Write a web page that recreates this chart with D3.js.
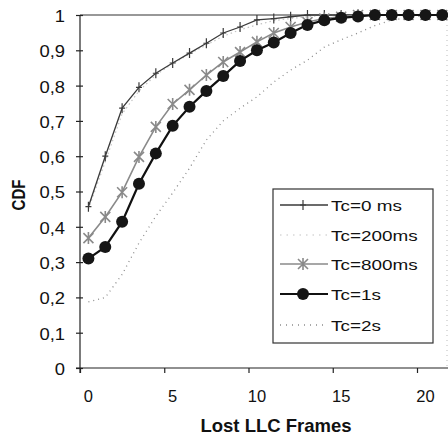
<!DOCTYPE html>
<html>
<head>
<meta charset="utf-8">
<title>CDF of lost LLC frames</title>
<script src="https://d3js.org/d3.v7.min.js"></script>
<style>
    body { margin: 0; background: #fff; }
    text { font-family: "Liberation Sans", Arial, sans-serif; fill: #111; }
    .axis path, .axis line { stroke: #222; stroke-width: 1.2px; }
</style>
</head>
<body>
<div id="chart"></div>
<script>
    // categories = lost frames 0..21
    const frames = d3.range(0, 22);
    const xLabels = [0, 5, 10, 15, 20];
    const yTicks = [0, 0.1, 0.2, 0.3, 0.4, 0.5, 0.6, 0.7, 0.8, 0.9, 1];

    const tc0 = [0.457, 0.60, 0.736, 0.795, 0.835, 0.864, 0.892, 0.92, 0.949, 0.966, 0.986, 0.99, 0.995, 1, 1, 1, 1, 1, 1, 1, 1, 1];
    const tc200 = [0.45, 0.585, 0.72, 0.785, 0.83, 0.862, 0.89, 0.915, 0.94, 0.958, 0.972, 0.984, 0.99, 0.995, 1, 1, 1, 1, 1, 1, 1, 1];
    const tc800 = [0.368, 0.428, 0.498, 0.598, 0.683, 0.748, 0.788, 0.83, 0.867, 0.895, 0.924, 0.949, 0.966, 0.98, 0.99, 0.995, 1, 1, 1, 1, 1, 1];
    const tc1s = [0.31, 0.343, 0.414, 0.522, 0.608, 0.686, 0.74, 0.785, 0.827, 0.87, 0.9, 0.922, 0.949, 0.972, 0.985, 0.992, 0.996, 1, 1, 1, 1, 1];
    const tc2s = [0.187, 0.2, 0.265, 0.354, 0.43, 0.496, 0.566, 0.646, 0.70, 0.736, 0.768, 0.81, 0.844, 0.872, 0.909, 0.93, 0.949, 0.97, 0.986, 0.992, 1, 1];

    const seriesNames = ["Tc=0 ms", "Tc=200ms", "Tc=800ms", "Tc=1s", "Tc=2s"];

    const width = 448, height = 438;
    const svg = d3.select("#chart").append("svg")
        .attr("width", width).attr("height", height);

    // category axis: each category centred between tick marks
    const x = d3.scaleLinear().domain([-0.5, 21.5]).range([80, 450.7]);
    const y = d3.scaleLinear().domain([0, 1]).range([368, 15]);

    // plot frame
    svg.append("line")
        .attr("x1", x(-0.5)).attr("x2", width).attr("y1", y(1)).attr("y2", y(1))
        .attr("stroke", "#333").attr("stroke-width", 1.2);
    svg.append("line")
        .attr("x1", 447).attr("x2", 447).attr("y1", y(1)).attr("y2", y(0))
        .attr("stroke", "#bbb").attr("stroke-dasharray", "1,4");

    // y axis
    const yAxis = svg.append("g").attr("class", "axis")
        .attr("transform", `translate(${x(-0.5)},0)`)
        .call(d3.axisLeft(y).tickValues(yTicks).tickSizeOuter(0)
            .tickFormat(d => (d === 0 || d === 1) ? String(d) : d3.format(".1f")(d).replace(".", ",")));
    yAxis.selectAll(".tick line").attr("x1", -4).attr("x2", 3);
    yAxis.selectAll(".tick text")
        .attr("x", null).attr("dy", "0.4em")
        .attr("transform", "translate(-15,0) scale(1.15,1)")
        .style("font-size", "16px").style("fill", "#111");
    yAxis.select(".domain").attr("d", `M0,${y(1)}V${y(0) + 5}`);

    // x axis: tick marks between categories, labels on categories
    const xAxis = svg.append("g").attr("class", "axis")
        .attr("transform", `translate(0,${y(0)})`)
        .call(d3.axisBottom(x).tickValues(xLabels.map(d => d - 0.5))
            .tickSize(5).tickSizeOuter(0).tickFormat(""));
    xAxis.select(".domain").attr("d", `M${x(-0.5) - 4},0H${width}`);

    svg.append("g").selectAll("text")
        .data(xLabels).join("text")
        .attr("x", d => x(d)).attr("y", 402)
        .attr("text-anchor", "middle")
        .style("font-size", "16.5px")
        .text(d => d);

    // axis titles
    svg.append("text")
        .attr("x", 276).attr("y", 432)
        .attr("text-anchor", "middle")
        .style("font-size", "18.5px").style("font-weight", "bold")
        .text("Lost LLC Frames");
    svg.append("text")
        .attr("transform", "translate(25,195) rotate(-90) scale(1,1.25)")
        .attr("text-anchor", "middle")
        .style("font-size", "15px").style("font-weight", "bold")
        .text("CDF");

    const line = d3.line().x((d, i) => x(frames[i])).y(d => y(d));

    // Tc=2s
    svg.append("path").datum(tc2s).attr("d", line)
        .attr("fill", "none").attr("stroke", "#8c8c8c").attr("stroke-width", 1.3)
        .attr("stroke-dasharray", "1,4");

    // Tc=200ms
    svg.append("path").datum(tc200).attr("d", line)
        .attr("fill", "none").attr("stroke", "#c4c4c4").attr("stroke-width", 1.2)
        .attr("stroke-dasharray", "1.5,3");

    // Tc=0 ms
    svg.append("path").datum(tc0).attr("d", line)
        .attr("fill", "none").attr("stroke", "#3a3a3a").attr("stroke-width", 1.3);
    const plus = "M0,-5V5M-3,0H3";
    svg.append("g").selectAll("path")
        .data(tc0).join("path")
        .attr("transform", (d, i) => `translate(${x(frames[i])},${y(d)})`)
        .attr("d", plus).attr("stroke", "#3a3a3a").attr("stroke-width", 1.2).attr("fill", "none");

    // Tc=800ms
    const star = "M-5,-5L5,5M-5,5L5,-5M0,-6V6";
    svg.append("path").datum(tc800).attr("d", line)
        .attr("fill", "none").attr("stroke", "#8a8a8a").attr("stroke-width", 1.6);
    svg.append("g").selectAll("path")
        .data(tc800).join("path")
        .attr("transform", (d, i) => `translate(${x(frames[i])},${y(d)})`)
        .attr("d", star).attr("stroke", "#8a8a8a").attr("stroke-width", 1.6).attr("fill", "none");

    // Tc=1s
    svg.append("path").datum(tc1s).attr("d", line)
        .attr("fill", "none").attr("stroke", "#111").attr("stroke-width", 2.2);
    svg.append("g").selectAll("circle")
        .data(tc1s).join("circle")
        .attr("cx", (d, i) => x(frames[i])).attr("cy", d => y(d))
        .attr("r", 6).attr("fill", "#161616");

    // legend
    const legend = svg.append("g");
    legend.append("rect")
        .attr("x", 273).attr("y", 189).attr("width", 160).attr("height", 154)
        .attr("fill", "#fff").attr("stroke", "#333").attr("stroke-width", 1.2);
    const rowY = [205, 235, 264, 294, 325];
    const rows = legend.selectAll("g.row")
        .data(seriesNames).join("g")
        .attr("class", "row")
        .attr("transform", (d, i) => `translate(0,${rowY[i]})`);
    rows.append("text")
        .attr("transform", "translate(331,5.5) scale(1.22,1)")
        .style("font-size", "15.5px")
        .text(d => d);

    const sample = [
        { stroke: "#3a3a3a", w: 1.3, dash: null },
        { stroke: "#c4c4c4", w: 1.2, dash: "1.5,5" },
        { stroke: "#8a8a8a", w: 1.6, dash: null },
        { stroke: "#111", w: 2.2, dash: null },
        { stroke: "#8c8c8c", w: 1.3, dash: "1,5" }
    ];
    rows.append("line")
        .attr("x1", 280).attr("x2", 328)
        .attr("stroke", (d, i) => sample[i].stroke)
        .attr("stroke-width", (d, i) => sample[i].w)
        .attr("stroke-dasharray", (d, i) => sample[i].dash);
    rows.filter((d, i) => i === 0).append("path")
        .attr("transform", "translate(303,0)").attr("d", plus)
        .attr("stroke", "#3a3a3a").attr("stroke-width", 1.2);
    rows.filter((d, i) => i === 2).append("path")
        .attr("transform", "translate(303,0)").attr("d", star)
        .attr("stroke", "#8a8a8a").attr("stroke-width", 1.6);
    rows.filter((d, i) => i === 3).append("circle")
        .attr("cx", 303).attr("r", 6).attr("fill", "#161616");
</script>
</body>
</html>
